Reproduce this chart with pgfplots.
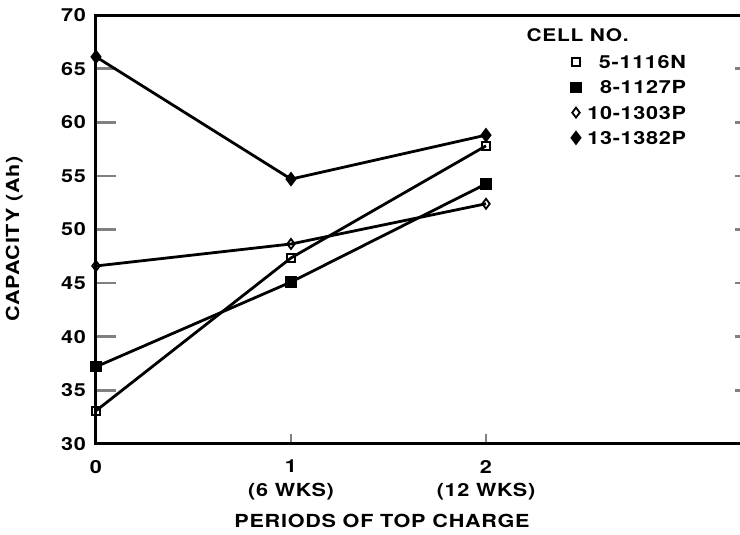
\documentclass[border=0pt]{standalone}
\usepackage{fontspec}
\setmainfont{TeX Gyre Heros}[FakeStretch=1.2, LetterSpace=4]
\usepackage{pgfplots}
\pgfplotsset{compat=1.18}
\begin{document}
\begin{tikzpicture}
\begin{axis}[
  name=ax,
  width=329.5pt, height=214.5pt, scale only axis,
  xmin=0, xmax=3.3795, ymin=30, ymax=70,
  xtick={0,1,2},
  xticklabels={0,{1\\(6 WKS)},{2\\(12 WKS)}},
  xticklabel style={align=center, font=\bfseries\fontsize{9}{11.75}\selectfont, yshift=-4.5pt},
  ytick={30,35,...,70},
  yticklabel style={font=\bfseries\fontsize{9}{11}\selectfont, xshift=-1.5pt},
  /pgf/number format/assume math mode=true,
  tick align=inside,
  xtick pos=bottom,
  ytick pos=both,
  xtick style={line width=1pt, /pgfplots/major tick length=5pt},
  ytick style={line width=1.3pt, /pgfplots/major tick length=10pt},
  axis line style={line width=1.5pt},
  xlabel={PERIODS OF TOP CHARGE},
  ylabel={CAPACITY (Ah)},
  label style={font=\bfseries\fontsize{9}{11}\selectfont},
  xlabel style={at={(axis description cs:0.434,-0.18)}, anchor=center},
  ylabel style={at={(axis description cs:-0.124,0.478)}, anchor=center},
  legend style={draw=none, fill=none, at={(axis description cs:0.896,0.906)}, anchor=north east,
    font=\bfseries\fontsize{9}{11}\selectfont, row sep=6.1pt, inner sep=0pt,
    nodes={inner sep=0pt, text height=6.5pt, text depth=0pt}},
  legend cell align=right,
  legend image code/.code={\draw[#1, only marks] plot coordinates {(0.1cm,0cm)}; \path[draw=none, fill=none] (0.1cm,0cm) -- (0.3cm,0cm);},
  every axis plot/.append style={line width=1.4pt, black},
]
\addplot[mark=square, mark size=2pt, mark options={solid, line width=0.9pt, fill=white}] coordinates {(0,33.1) (1,47.35) (2,57.8)};
\addlegendentry{\hspace{4pt}5-1116N}
\addplot[mark=square*, mark size=2.1pt] coordinates {(0,37.2) (1,45.1) (2,54.25)};
\addlegendentry{\hspace{4pt}8-1127P}
\addplot[mark=diamond, mark size=2.5pt, mark options={solid, line width=0.9pt, fill=white}] coordinates {(0,46.6) (1,48.65) (2,52.4)};
\addlegendentry{10-1303P}
\addplot[mark=diamond*, mark size=2.6pt] coordinates {(0,66.1) (1,54.7) (2,58.8)};
\addlegendentry{13-1382P}
\node[anchor=north west, font=\bfseries\fontsize{8.7}{11}\selectfont, inner sep=0pt] at (axis description cs:0.653,0.97) {CELL NO.};
\end{axis}
\pgfresetboundingbox
\path[use as bounding box] ([shift={(-48pt,-45.5pt)}]ax.south west) rectangle ([shift={(322pt,222pt)}]ax.south west);
\end{tikzpicture}
\end{document}
